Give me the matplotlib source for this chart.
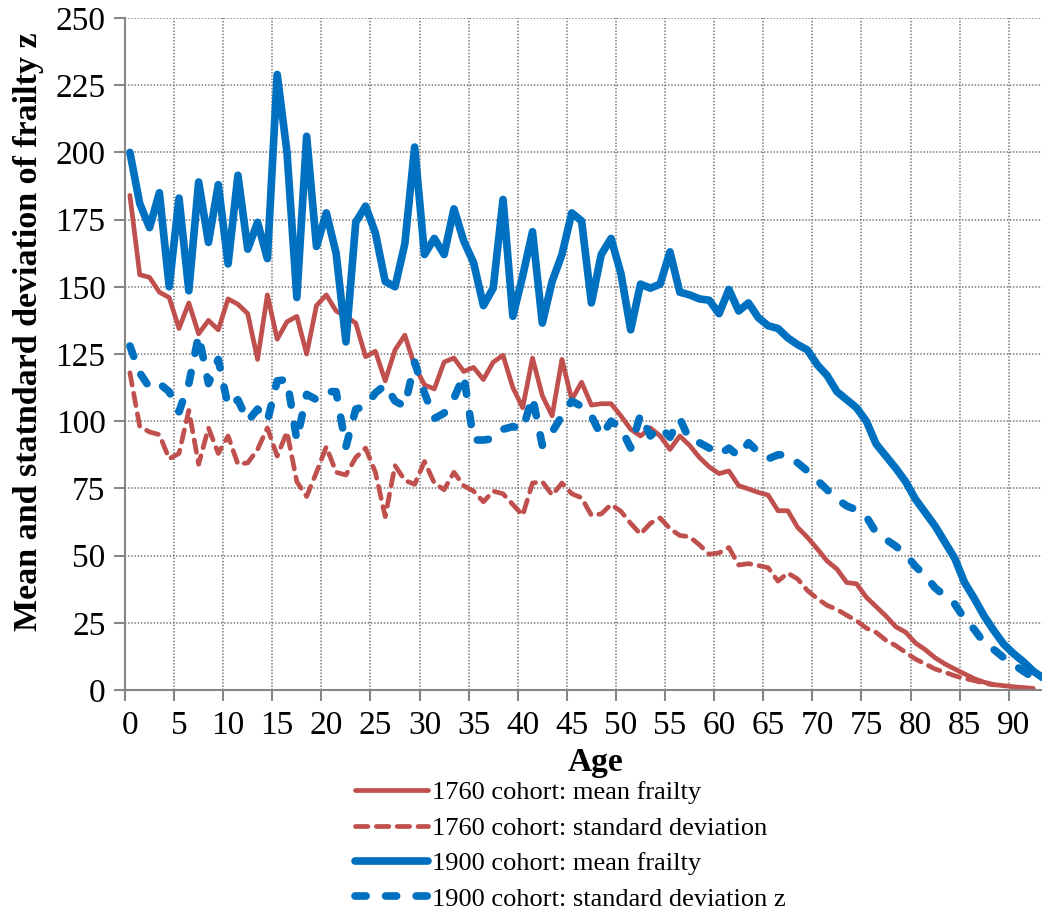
import matplotlib
matplotlib.use("Agg")
import matplotlib.pyplot as plt
from matplotlib.ticker import FixedLocator

plt.rcParams['font.family'] = ['Liberation Serif', 'DejaVu Serif']
plt.rcParams['lines.scale_dashes'] = False

# ages 0..93 (category axis, one point per year)
mean_1900 = [200, 181, 172, 185, 150, 183, 148.5, 189, 166.5, 188,
             158.5, 191.5, 164, 174, 160.5, 229, 200, 146, 206, 165,
             177.5, 162.5, 129.5, 174, 180, 170, 152, 150, 166, 202,
             162, 168, 162, 179, 167, 159, 143, 149.5, 182.5, 139,
             154, 170.5, 136.5, 152, 162, 177.5, 174.5, 144, 162, 168,
             155, 134, 151, 149.5, 151, 163, 148, 147, 145.5, 145,
             140, 149, 141, 144, 138.5, 135.5, 134.5, 131, 128.5, 126.5,
             121, 117, 111, 108, 105, 100, 91.5, 87, 82.5, 77.5,
             71, 66, 61, 55, 49, 40, 34, 27.5, 22, 17,
             13.5, 10.5, 7, 4.5]

sd_1900 = [128, 118, 112.5, 114, 111, 103.5, 114, 132, 114, 123,
           105.5, 108, 100, 104.5, 100, 115, 115.5, 93, 110, 108,
           111, 111, 90.5, 104.5, 105.5, 110.5, 113.5, 107.5, 105.5, 122,
           110.5, 101, 103, 108.5, 117, 93, 93, 93.5, 97, 98,
           97, 109, 91, 96, 102, 107.5, 105.5, 102, 94.5, 100,
           97.5, 90, 102.5, 94.5, 98, 94, 101, 93, 92, 90,
           87.5, 90, 87, 92, 88.5, 86, 87.5, 87.5, 84.5, 81.5,
           78, 74.5, 71, 68.5, 67, 64.5, 58.5, 56, 53.5, 50.5,
           46, 42.5, 38, 35, 32, 26.5, 22.5, 17.5, 15, 12,
           9.5, 7, 4.5, 2.5]

mean_1760 = [184, 154.5, 153.5, 148, 146, 134.5, 144, 132.5, 137.5, 134,
             145.5, 143.5, 140, 123, 147, 130.5, 137, 139, 125, 143,
             147, 141, 139, 136.5, 124, 126, 115, 126.5, 132, 120.5,
             113.5, 112, 122, 123.5, 118.5, 120, 115.5, 122, 124.5, 112.5,
             105, 123.5, 109.5, 102, 123, 108, 114.5, 106, 106.5, 106.5,
             102, 97, 94.5, 97.5, 94.5, 89.5, 94.5, 91, 86.5, 83,
             80.5, 81.5, 76, 74.8, 73.5, 72.5, 66.7, 66.7, 60.5, 56.8,
             52.5, 48, 45, 40, 39.5, 34.5, 31, 27.5, 23.5, 21.5,
             17.5, 15, 12, 9.7, 7.8, 6, 4.2, 2.9, 2, 1.6,
             1.2, 0.9, 0.6]

sd_1760 = [118, 98, 96, 95, 86, 88, 104, 84, 97.5, 88,
           94.5, 84, 84.5, 89.5, 97.5, 87, 96, 77.5, 72, 81,
           90.5, 81, 80, 86.5, 90, 81, 64.5, 83.5, 78, 76.5,
           85, 77, 74.5, 81, 76, 74, 70, 74, 73, 69,
           65, 77, 77.5, 72.5, 77, 73, 71.5, 65, 65.5, 69,
           66.5, 62, 58, 62, 64, 60, 57.5, 57, 54, 50.5,
           51, 53, 46.5, 47, 46.3, 45.5, 40.5, 43.5, 41.3, 37,
           34, 31.5, 30, 27.8, 25.8, 23, 21.4, 18.5, 16.5, 14,
           11.5, 9.7, 7.8, 6.6, 5.3, 4.3, 3.5, 2.5, 1.9]

labels = ["1760 cohort: mean frailty", "1760 cohort: standard deviation",
          "1900 cohort: mean frailty", "1900 cohort: standard deviation z"]

red = '#C0504D'
blue = '#0070C0'
grey = '#868686'

fig = plt.figure(figsize=(10.42, 9.15), dpi=100)
ax = fig.add_axes([125 / 1042, 1 - 690 / 915, 923 / 1042, 672 / 915])

ax.plot(range(len(mean_1760)), mean_1760, color=red, lw=3.4,
        solid_joinstyle='round', solid_capstyle='round', label=labels[0])
ax.plot(range(len(sd_1760)), sd_1760, color=red, lw=3.4, dashes=(9, 6),
        dash_capstyle='round', dash_joinstyle='round', label=labels[1])
ax.plot(range(len(mean_1900)), mean_1900, color=blue, lw=5.5,
        solid_joinstyle='round', solid_capstyle='round', label=labels[2])
ax.plot(range(len(sd_1900)), sd_1900, color=blue, lw=5.5, dashes=(8, 14),
        dash_capstyle='round', dash_joinstyle='round', label=labels[3])

ax.set_xlim(-0.5, 93.5)
ax.set_ylim(0, 250)

ax.xaxis.set_major_locator(FixedLocator(range(0, 91, 5)))
ax.xaxis.set_minor_locator(FixedLocator([b - 0.5 for b in range(0, 95, 5)]))
ax.set_yticks(range(0, 251, 25))
ax.tick_params(axis='x', which='major', length=0, pad=15, labelsize=24)
ax.tick_params(axis='x', which='minor', length=8, width=1.5, color=grey)
ax.tick_params(axis='y', length=8, width=1.5, color=grey, pad=6, labelsize=24)

ax.grid(True, axis='y', which='major', color=grey, lw=1.3, ls=(0, (1, 1.3)))
ax.grid(True, axis='x', which='minor', color=grey, lw=1.3, ls=(0, (1, 1.3)))
ax.set_axisbelow(True)

for s in ['top', 'right']:
    ax.spines[s].set_visible(False)
for s in ['left', 'bottom']:
    ax.spines[s].set_color(grey)
    ax.spines[s].set_linewidth(1.5)

ax.set_xlabel("Age", fontsize=24, fontweight='bold', va='center')
ax.xaxis.set_label_coords(470 / 923, -72 / 672)
ax.set_ylabel("Mean and statndard deviation of frailty z", fontsize=24.5,
              fontweight='bold', va='center')
ax.yaxis.set_label_coords(-96 / 923, 358 / 672)

fig.legend(loc='upper left', bbox_to_anchor=(355 / 1042, 1 - 781 / 915),
           frameon=False, fontsize=19, handlelength=2.75, handletextpad=0.15,
           labelspacing=0.45, borderpad=0, borderaxespad=0)

fig.savefig("out.png", dpi=100)
